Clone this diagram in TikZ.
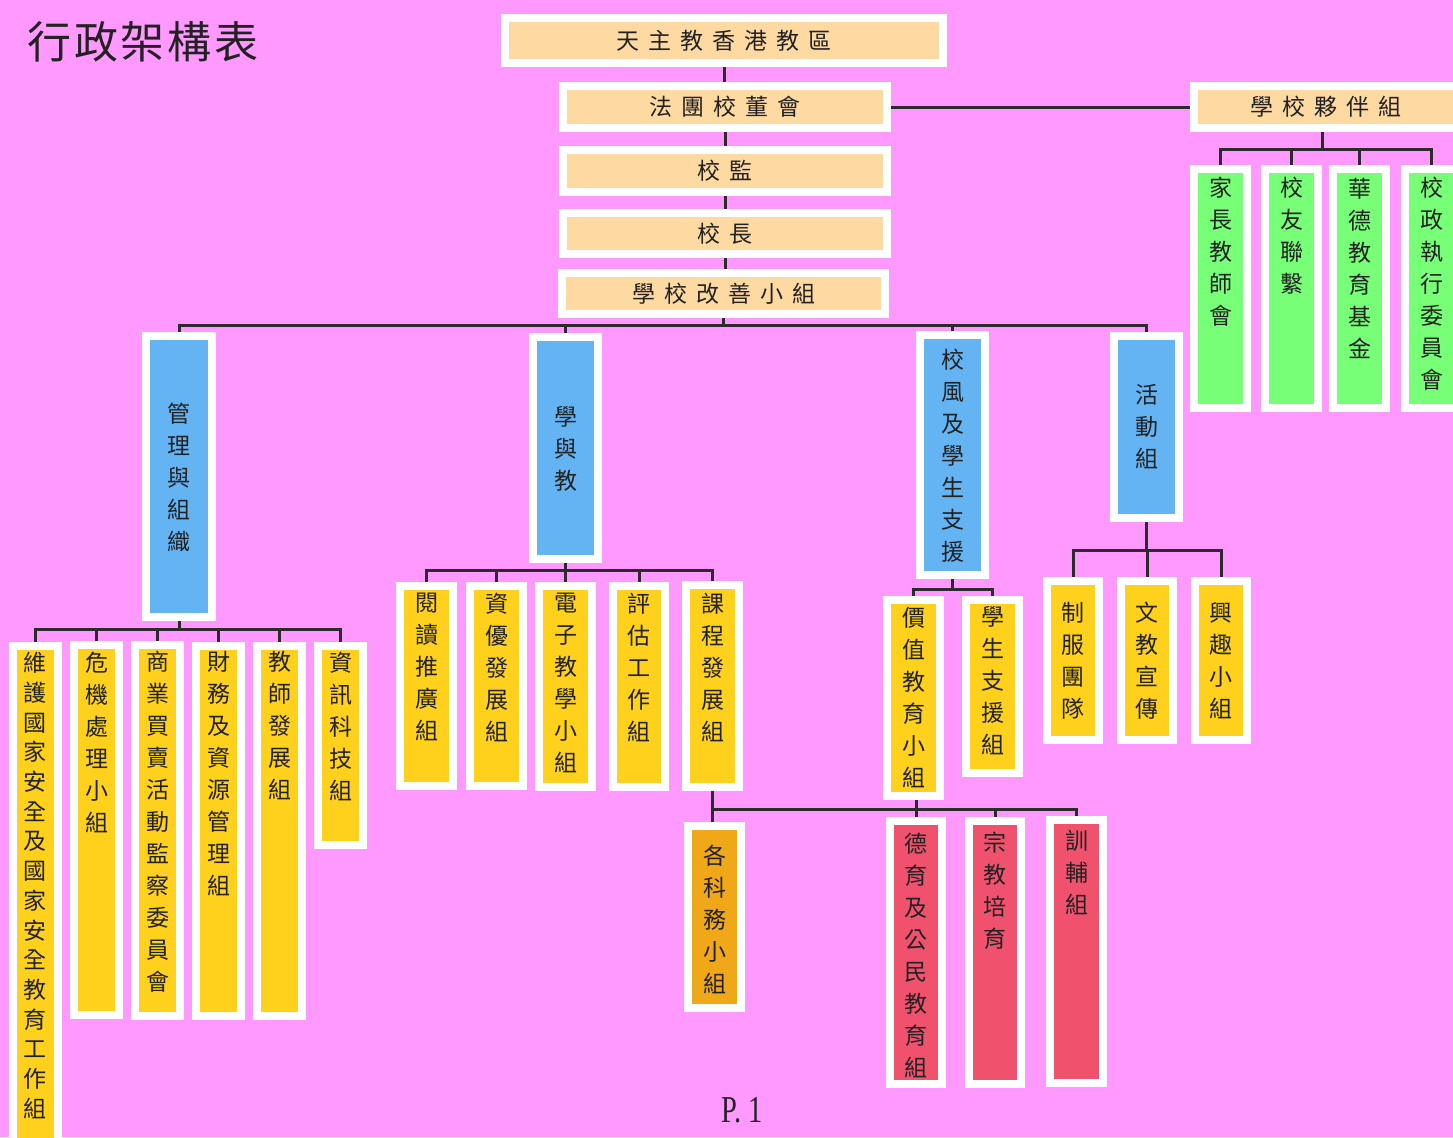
\documentclass[tikz,border=0pt]{standalone}
\usepackage{fontspec}
\usepackage{graphicx}
\setmainfont{Liberation Serif}
\newfontfamily\cjk{Noto Sans CJK TC}
\usetikzlibrary{calc}
\definecolor{bgpink}{HTML}{FF99FF}
\definecolor{peach}{HTML}{FFD9A2}
\definecolor{skyb}{HTML}{64B4F4}
\definecolor{lgreen}{HTML}{78FF78}
\definecolor{gold}{HTML}{FFD01C}
\definecolor{amber}{HTML}{F0A818}
\definecolor{rosered}{HTML}{F0526E}
\definecolor{linec}{HTML}{2B2B2B}
\definecolor{txtc}{HTML}{222222}
\pgfdeclarelayer{bg}
\pgfsetlayers{bg,main}
\newdimen\vtskip
\vtskip=16pt
\makeatletter
\newcommand\vtxt[1]{\vbox{\baselineskip=\vtskip\lineskiplimit=-20pt\@tfor\vt@ch:=#1\do{\hbox{\vt@ch}}}}
\newcommand\htxt[2]{\@tfor\vt@ch:=#2\do{\vt@ch\hskip #1\relax}\unskip}
\makeatother
\tikzset{
  obox/.style={rectangle, draw=white, line width=4pt, inner sep=0pt},
  cjktext/.style={inner sep=0pt, text=txtc, font=\cjk\fontsize{11.5pt}{16pt}\selectfont},
  conn/.style={draw=linec, line width=1.5pt},
}
% name, x1, x2, y1, y2, colour, text centre y, characters
\newcommand\orgv[8]{%
  \node[obox, fill=#6, minimum width={(#3-#2-8)*0.5pt}, minimum height={(#5-#4-8)*0.5pt}] (#1) at ({(#2+#3)/2},{(#4+#5)/2}) {};
  \node[cjktext] (#1t) at ({(#2+#3)/2},#7) {\vtxt{#8}};}
% name, x1, x2, y1, y2, text centre x, characters
\newcommand\orgh[7]{%
  \node[obox, fill=peach, minimum width={(#3-#2-8)*0.5pt}, minimum height={(#5-#4-8)*0.5pt}] (#1) at ({(#2+#3)/2},{(#4+#5)/2}) {};
  \node[cjktext] (#1t) at (#6,{(#4+#5)/2}) {\htxt{4.5pt}{#7}};}
\begin{document}
\begin{tikzpicture}[x=0.5pt,y=-0.5pt]
\clip (0,0) rectangle (1453,1137);
% title
\node[inner sep=0pt, text=txtc, font=\cjk\fontsize{22pt}{26pt}\selectfont] (title) at (143,42) {\htxt{1.3pt}{行政架構表}};
% top chain
\orgh{top}{501}{947}{14}{67}{724}{天主教香港教區}
\orgh{board}{559}{891}{82}{132}{725}{法團校董會}
\orgh{sup}{559}{891}{146}{196}{725}{校監}
\orgh{prin}{559}{891}{209}{258}{725}{校長}
\orgh{imp}{558}{889}{269}{318}{724}{學校改善小組}
\orgh{partner}{1190}{1464}{82}{132}{1326}{學校夥伴組}
% partner children
\orgv{pta}{1190}{1251}{165}{412}{lgreen}{252}{家長教師會}
\orgv{alumni}{1261}{1322}{165}{412}{lgreen}{236}{校友聯繫}
\orgv{wahtak}{1329}{1390}{165}{412}{lgreen}{268}{華德教育基金}
\orgv{exec}{1401}{1462}{165}{412}{lgreen}{284}{校政執行委員會}
% main departments
\orgv{mgmt}{142}{216}{332}{621}{skyb}{477}{管理與組織}
\orgv{teach}{529}{602}{333}{563}{skyb}{449}{學與教}
\orgv{disc}{916}{989}{331}{579}{skyb}{456}{校風及學生支援}
\orgv{act}{1110}{1183}{332}{522}{skyb}{427}{活動組}
% management groups
\vtskip=14.85pt
\orgv{m1}{9}{62}{642}{1150}{gold}{885.5}{維護國家安全及國家安全教育工作組}
\vtskip=16pt
\orgv{m2}{70}{123}{641}{1019}{gold}{742}{危機處理小組}
\orgv{m3}{131}{184}{641}{1020}{gold}{822}{商業買賣活動監察委員會}
\orgv{m4}{192}{245}{642}{1020}{gold}{774}{財務及資源管理組}
\orgv{m5}{253}{306}{642}{1020}{gold}{726}{教師發展組}
\orgv{m6}{314}{367}{642}{849}{gold}{726}{資訊科技組}
% learning and teaching groups
\orgv{t1}{396}{457}{582}{790}{gold}{667}{閱讀推廣組}
\orgv{t2}{466}{527}{582}{790}{gold}{667}{資優發展組}
\orgv{t3}{535}{596}{582}{791}{gold}{683}{電子教學小組}
\orgv{t4}{609}{669}{582}{791}{gold}{667}{評估工作組}
\orgv{t5}{682}{743}{581}{791}{gold}{667}{課程發展組}
\orgv{t6}{684}{745}{822}{1012}{amber}{919}{各科務小組}
% discipline groups
\orgv{v1}{883}{944}{596}{800}{gold}{698}{價值教育小組}
\orgv{v2}{962}{1023}{596}{777}{gold}{681}{學生支援組}
% activity groups
\orgv{a1}{1043}{1103}{577}{744}{gold}{661}{制服團隊}
\orgv{a2}{1117}{1177}{577}{744}{gold}{661}{文教宣傳}
\orgv{a3}{1191}{1251}{577}{744}{gold}{661}{興趣小組}
% red groups
\orgv{s1}{886}{946}{817}{1088}{rosered}{955}{德育及公民教育組}
\orgv{s2}{965}{1025}{817}{1088}{rosered}{891}{宗教培育}
\orgv{s3}{1046}{1107}{816}{1087}{rosered}{872}{訓輔組}
% page number
\node[inner sep=0pt, text=txtc, font=\fontsize{19pt}{22pt}\selectfont] (page) at (742,1110) {\scalebox{0.75}[1]{P. 1}};
% connectors
\coordinate (pb) at (1322,149);
\coordinate (mb) at (725,325);
\coordinate (b1) at (179,629);
\coordinate (b2) at (565,570);
\coordinate (b3) at (950,589);
\coordinate (b4) at (1147,550);
\coordinate (b5) at (713,809);
\begin{pgfonlayer}{bg}
\fill[bgpink] (0,0) rectangle (1453,1137);
\draw[conn] (top.south) -- (top.south |- board.north);
\draw[conn] (board.south) -- (board.south |- sup.north);
\draw[conn] (sup.south) -- (sup.south |- prin.north);
\draw[conn] (prin.south) -- (prin.south |- imp.north);
\draw[conn] (board.east) -- (partner.west);
\draw[conn] (pb |- partner.south) -- (pb);
\draw[conn] (pta.north) |- (exec.north |- pb) -- (exec.north);
\draw[conn] (alumni.north) -- (alumni.north |- pb);
\draw[conn] (wahtak.north) -- (wahtak.north |- pb);
\draw[conn] (imp.south) -- (imp.south |- mb);
\draw[conn] (mgmt.north) |- (act.north |- mb) -- (act.north);
\draw[conn] (teach.north) -- (teach.north |- mb);
\draw[conn] (disc.north) -- (disc.north |- mb);
\draw[conn] (mgmt.south) -- (mgmt.south |- b1);
\draw[conn] (m1.north) |- (m6.north |- b1) -- (m6.north);
\foreach \n in {m2,m3,m4,m5} \draw[conn] (\n.north) -- (\n.north |- b1);
\draw[conn] (teach.south) -- (teach.south |- b2);
\draw[conn] (t1.north) |- (t5.north |- b2) -- (t5.north);
\foreach \n in {t2,t3,t4} \draw[conn] (\n.north) -- (\n.north |- b2);
\draw[conn] (t5.south) -- (t5.south |- t6.north);
\draw[conn] (t5.south |- b5) -| (s3.north);
\draw[conn] (s1.north) -- (s1.north |- v1.south);
\draw[conn] (s2.north) -- (s2.north |- b5);
\draw[conn] (disc.south) -- (disc.south |- b3);
\draw[conn] (v1.north) |- (v2.north |- b3) -- (v2.north);
\draw[conn] (act.south) -- (act.south |- b4);
\draw[conn] (a1.north) |- (a3.north |- b4) -- (a3.north);
\draw[conn] (a2.north) -- (a2.north |- b4);
\end{pgfonlayer}
\end{tikzpicture}
\end{document}
